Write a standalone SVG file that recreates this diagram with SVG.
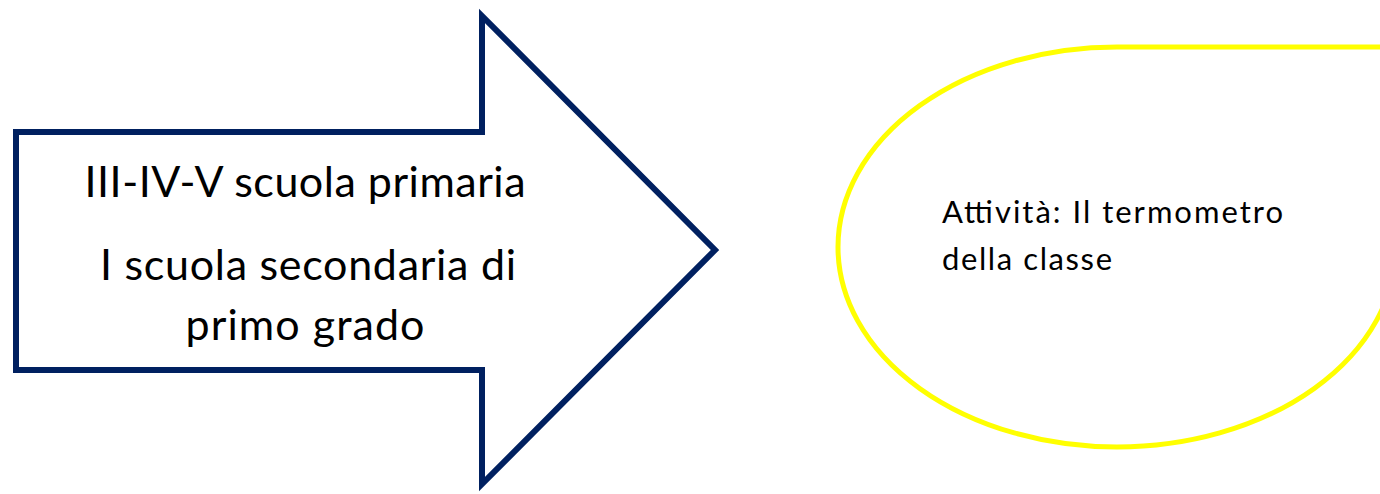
<svg xmlns="http://www.w3.org/2000/svg" width="1380" height="494" viewBox="0 0 1380 494">
<style>
.t{font-family:Lato,"Open Sans","Liberation Sans",sans-serif;fill:#000}
.big{font-size:43px}
.small{font-size:31px}
</style>
<rect width="1380" height="494" fill="#fff"/>
<g id="arrow">
<path d="M16,132 L482,132 L482,16 L715,250 L482,484 L482,370 L16,370 Z" fill="#fff" stroke="#002060" stroke-width="6" stroke-linejoin="miter"/>
<text class="t big" x="305" y="197" text-anchor="middle" textLength="441">III-IV-V scuola primaria</text>
<text class="t big" x="308" y="280" text-anchor="middle" textLength="416">I scuola secondaria di</text>
<text class="t big" x="305" y="340" text-anchor="middle" textLength="239">primo grado</text>
</g>
<g id="activity">
<path d="M838,247 A279,200 0 0 1 1117,47 L1396,47 L1396,247 A279,200 0 0 1 1117,447 A279,200 0 0 1 838,247 Z" fill="#fff" stroke="#ffff00" stroke-width="5"/>
<text class="t small" x="942" y="223" textLength="341">Attività: Il termometro</text>
<text class="t small" x="942" y="270" textLength="170">della classe</text>
</g>
<g id="connectors"/>
</svg>
